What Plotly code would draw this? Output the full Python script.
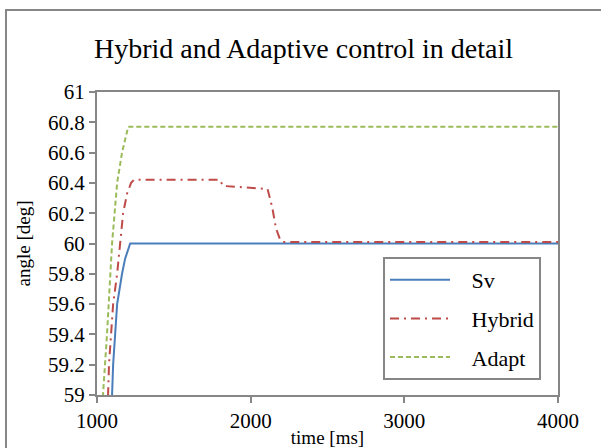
import plotly.graph_objects as go

# Data
sv_t = [1050, 1098, 1105, 1118, 1131, 1163, 1183, 1216, 4000]
sv_y = [58.3, 59.0, 59.2, 59.4, 59.6, 59.8, 59.9, 60.0, 60.0]

hy_t = [1030, 1072, 1078, 1091, 1105, 1131, 1150, 1157, 1170, 1196, 1222, 1240, 1800, 1820, 2110, 2140, 2165, 2190, 2210, 4000]
hy_y = [58.3, 59.0, 59.2, 59.4, 59.6, 59.8, 60.0, 60.1, 60.2, 60.33, 60.4, 60.42, 60.42, 60.38, 60.36, 60.24, 60.10, 60.03, 60.01, 60.01]

ad_t = [1010, 1039, 1065, 1085, 1098, 1131, 1163, 1203, 4000]
ad_y = [58.3, 59.0, 59.4, 59.8, 60.0, 60.4, 60.6, 60.77, 60.77]

series_names = ["Sv", "Hybrid", "Adapt"]

x_ticks = [1000, 2000, 3000, 4000]
y_ticks = [59, 59.2, 59.4, 59.6, 59.8, 60, 60.2, 60.4, 60.6, 60.8, 61]
y_labels = ["59", "59.2", "59.4", "59.6", "59.8", "60", "60.2", "60.4", "60.6", "60.8", "61"]

FONT = "Liberation Serif, Times New Roman, Times, serif"
AX = "#868686"
PAD = "\u00a0\u00a0\u00a0"

fig = go.Figure()
fig.add_trace(go.Scatter(x=sv_t, y=sv_y, mode="lines", name=PAD + series_names[0], legendgroup="a",
                         line=dict(color="#4a7ebb", width=2)))
fig.add_trace(go.Scatter(x=hy_t, y=hy_y, mode="lines", name=PAD + series_names[1], legendgroup="b",
                         line=dict(color="#be4b48", width=2, dash="9px,5px,2px,5px")))
fig.add_trace(go.Scatter(x=ad_t, y=ad_y, mode="lines", name=PAD + series_names[2], legendgroup="c",
                         line=dict(color="#9bbb59", width=2, dash="5px,3px")))

fig.update_layout(
    width=601, height=448,
    margin=dict(l=97, r=43, t=92, b=53, autoexpand=False),
    paper_bgcolor="white", plot_bgcolor="white",
    font=dict(family=FONT, color="black", size=20),
    title=dict(text="Hybrid and Adaptive control in detail", x=0.505, xanchor="center",
               y=1 - 48 / 448, yanchor="middle", font=dict(size=28, family=FONT)),
    xaxis=dict(range=[1000, 4000], tickvals=x_ticks, ticks="outside", ticklen=6,
               tickcolor=AX, tickwidth=2, showline=True, linecolor=AX, linewidth=2,
               mirror=True, showgrid=False, zeroline=False, automargin=False,
               tickfont=dict(size=21, family=FONT),
               title=dict(text="time [ms]", font=dict(size=19, family=FONT), standoff=2)),
    yaxis=dict(range=[59, 61], tickvals=y_ticks, ticktext=y_labels, ticks="outside", ticklen=6,
               tickcolor=AX, tickwidth=2, showline=True, linecolor=AX, linewidth=2,
               mirror=True, showgrid=False, zeroline=False, automargin=False,
               tickfont=dict(size=21, family=FONT),
               title=dict(text="angle [deg]", font=dict(size=19, family=FONT), standoff=12)),
    legend=dict(x=(383 - 97) / 461, y=(395 - 257) / 303, xanchor="left", yanchor="top",
                bordercolor=AX, borderwidth=2, bgcolor="white",
                font=dict(size=22, family=FONT), itemwidth=60, tracegroupgap=7),
    showlegend=True,
    shapes=[dict(type="rect", xref="paper", yref="paper",
                 x0=(6 - 97) / 461, x1=1.2, y0=-0.5, y1=(395 - 10) / 303,
                 line=dict(color=AX, width=2), layer="below")],
)

fig.write_html("out.html")
